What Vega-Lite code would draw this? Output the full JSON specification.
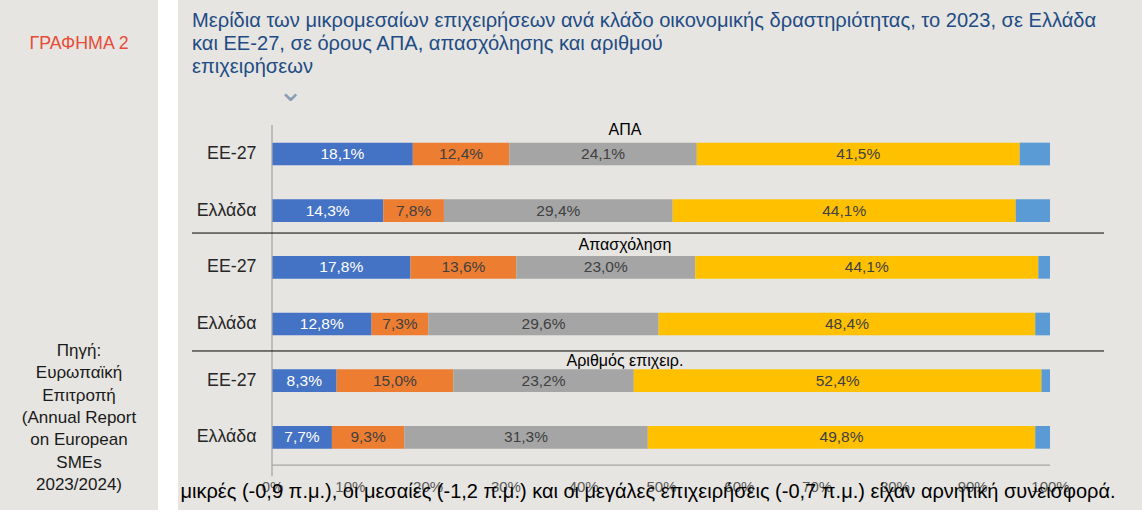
{
  "$schema": "https://vega.github.io/schema/vega-lite/v6.json",
  "padding": 0,
  "background": "#FFFFFF",
  "config": {
    "view": {"stroke": null},
    "font": "Liberation Sans",
    "locale": {"number": {"decimal": ",", "thousands": ".", "grouping": [3], "currency": ["", " €"]}},
    "concat": {"spacing": 20}
  },
  "hconcat": [
    {
      "width": 158,
      "height": 510,
      "view": {"fill": "#E6E5E1", "stroke": null},
      "title": {
        "text": "ΓΡΑΦΗΜΑ 2",
        "subtitle": ["Πηγή:", "Ευρωπαϊκή", "Επιτροπή", "(Annual Report", "on European", "SMEs", "2023/2024)"],
        "anchor": "middle",
        "frame": "group",
        "offset": -493,
        "font": "Liberation Sans",
        "fontSize": 17.8,
        "fontWeight": "normal",
        "color": "#E84B37",
        "subtitleFont": "Liberation Sans",
        "subtitleFontSize": 17,
        "subtitleColor": "#1A1A1A",
        "subtitleLineHeight": 22.3,
        "subtitlePadding": 290
      },
      "data": {"values": [{}]},
      "mark": {"type": "text", "text": ""}
    },
    {
      "width": 964,
      "height": 510,
      "view": {"fill": "#E6E5E1", "stroke": null},
      "title": {
        "text": [
          "Μερίδια των μικρομεσαίων επιχειρήσεων ανά κλάδο οικονομικής δραστηριότητας, το 2023, σε Ελλάδα",
          "και ΕΕ-27, σε όρους ΑΠΑ, απασχόλησης και αριθμού",
          "επιχειρήσεων"
        ],
        "anchor": "start",
        "frame": "group",
        "offset": -77,
        "dx": 14,
        "font": "Liberation Sans",
        "fontSize": 20.1,
        "fontWeight": "normal",
        "color": "#1F4C85",
        "lineHeight": 23
      },
      "data": {
        "values": [
          {"row": "ΑΠΑ|ΕΕ-27", "seg": "Κλάδος Α", "v": 0.181},
          {"row": "ΑΠΑ|ΕΕ-27", "seg": "Κλάδος Β", "v": 0.124},
          {"row": "ΑΠΑ|ΕΕ-27", "seg": "Κλάδος Γ", "v": 0.241},
          {"row": "ΑΠΑ|ΕΕ-27", "seg": "Κλάδος Δ", "v": 0.415},
          {"row": "ΑΠΑ|ΕΕ-27", "seg": "Κλάδος Ε", "v": 0.039},
          {"row": "ΑΠΑ|Ελλάδα", "seg": "Κλάδος Α", "v": 0.143},
          {"row": "ΑΠΑ|Ελλάδα", "seg": "Κλάδος Β", "v": 0.078},
          {"row": "ΑΠΑ|Ελλάδα", "seg": "Κλάδος Γ", "v": 0.294},
          {"row": "ΑΠΑ|Ελλάδα", "seg": "Κλάδος Δ", "v": 0.441},
          {"row": "ΑΠΑ|Ελλάδα", "seg": "Κλάδος Ε", "v": 0.044},
          {"row": "Απασχόληση|ΕΕ-27", "seg": "Κλάδος Α", "v": 0.178},
          {"row": "Απασχόληση|ΕΕ-27", "seg": "Κλάδος Β", "v": 0.136},
          {"row": "Απασχόληση|ΕΕ-27", "seg": "Κλάδος Γ", "v": 0.230},
          {"row": "Απασχόληση|ΕΕ-27", "seg": "Κλάδος Δ", "v": 0.441},
          {"row": "Απασχόληση|ΕΕ-27", "seg": "Κλάδος Ε", "v": 0.015},
          {"row": "Απασχόληση|Ελλάδα", "seg": "Κλάδος Α", "v": 0.128},
          {"row": "Απασχόληση|Ελλάδα", "seg": "Κλάδος Β", "v": 0.073},
          {"row": "Απασχόληση|Ελλάδα", "seg": "Κλάδος Γ", "v": 0.296},
          {"row": "Απασχόληση|Ελλάδα", "seg": "Κλάδος Δ", "v": 0.484},
          {"row": "Απασχόληση|Ελλάδα", "seg": "Κλάδος Ε", "v": 0.019},
          {"row": "Αριθμός επιχειρ.|ΕΕ-27", "seg": "Κλάδος Α", "v": 0.083},
          {"row": "Αριθμός επιχειρ.|ΕΕ-27", "seg": "Κλάδος Β", "v": 0.150},
          {"row": "Αριθμός επιχειρ.|ΕΕ-27", "seg": "Κλάδος Γ", "v": 0.232},
          {"row": "Αριθμός επιχειρ.|ΕΕ-27", "seg": "Κλάδος Δ", "v": 0.524},
          {"row": "Αριθμός επιχειρ.|ΕΕ-27", "seg": "Κλάδος Ε", "v": 0.011},
          {"row": "Αριθμός επιχειρ.|Ελλάδα", "seg": "Κλάδος Α", "v": 0.077},
          {"row": "Αριθμός επιχειρ.|Ελλάδα", "seg": "Κλάδος Β", "v": 0.093},
          {"row": "Αριθμός επιχειρ.|Ελλάδα", "seg": "Κλάδος Γ", "v": 0.313},
          {"row": "Αριθμός επιχειρ.|Ελλάδα", "seg": "Κλάδος Δ", "v": 0.498},
          {"row": "Αριθμός επιχειρ.|Ελλάδα", "seg": "Κλάδος Ε", "v": 0.019}
        ]
      },
      "layer": [
        {
          "mark": {"type": "bar"},
          "encoding": {
            "x": {
              "field": "v", "type": "quantitative", "stack": "zero",
              "scale": {"domain": [-0.120823, 1.118252], "nice": false, "zero": false},
              "axis": {
                "orient": "bottom", "offset": -45,
                "values": [0, 0.1, 0.2, 0.3, 0.4, 0.5, 0.6, 0.7, 0.8, 0.9, 1],
                "format": "%", "domain": false, "ticks": false, "grid": false,
                "labelFlush": false, "labelPadding": 14, "labelFontSize": 15,
                "labelColor": "#595959", "labelFont": "Liberation Sans",
                "title": "μικρές (-0,9 π.μ.), οι μεσαίες (-1,2 π.μ.) και οι μεγάλες επιχειρήσεις (-0,7 π.μ.) είχαν αρνητική συνεισφορά.",
                "titleFont": "Liberation Sans", "titleFontSize": 20, "titleFontWeight": "normal",
                "titleColor": "#000000", "titleX": 469.5, "titleY": 32,
                "titleBaseline": "alphabetic", "titleAlign": "center", "titleAnchor": null
              }
            },
            "y": {
              "field": "row", "type": "nominal",
              "scale": {
                "type": "band",
                "domain": ["ΑΠΑ|ΕΕ-27", "ΑΠΑ|Ελλάδα", "Απασχόληση|ΕΕ-27", "Απασχόληση|Ελλάδα", "Αριθμός επιχειρ.|ΕΕ-27", "Αριθμός επιχειρ.|Ελλάδα"],
                "range": [125.67, 465.67],
                "paddingInner": 0.6, "paddingOuter": 0.3, "round": false
              },
              "axis": {
                "orient": "left", "offset": -94, "domain": false, "ticks": false,
                "labelPadding": 16, "labelFontSize": 17.8, "labelColor": "#262626",
                "labelFont": "Liberation Sans", "title": null,
                "labelExpr": "split(datum.label, '|')[1]"
              }
            },
            "color": {
              "field": "seg", "type": "nominal",
              "scale": {
                "domain": ["Κλάδος Α", "Κλάδος Β", "Κλάδος Γ", "Κλάδος Δ", "Κλάδος Ε"],
                "range": ["#4472C4", "#ED7D31", "#A5A5A5", "#FFC000", "#5B9BD5"]
              },
              "legend": null
            },
            "order": {"field": "seg", "type": "nominal", "sort": "ascending"}
          }
        },
        {
          "transform": [{"filter": "datum.seg !== 'Κλάδος Ε'"}],
          "mark": {"type": "text", "fontSize": 15.5, "font": "Liberation Sans"},
          "encoding": {
            "x": {"field": "v", "type": "quantitative", "stack": "zero", "bandPosition": 0.5},
            "y": {"field": "row", "type": "nominal"},
            "text": {"field": "v", "type": "quantitative", "format": ".1%"},
            "color": {"condition": {"test": "datum.seg === 'Κλάδος Α'", "value": "#FFFFFF"}, "value": "#404040"},
            "order": {"field": "seg", "type": "nominal", "sort": "ascending"}
          }
        },
        {
          "data": {"values": [{}]},
          "mark": {"type": "rule", "color": "#A6A6A6", "strokeWidth": 1.3, "yOffset": -29, "y2Offset": 39},
          "encoding": {
            "x": {"datum": 0, "type": "quantitative"},
            "y": {"datum": "ΑΠΑ|ΕΕ-27", "type": "nominal"},
            "y2": {"datum": "Αριθμός επιχειρ.|Ελλάδα"}
          }
        },
        {
          "data": {"values": [{}]},
          "mark": {"type": "rule", "color": "#A6A6A6", "strokeWidth": 1.3, "yOffset": 27.7},
          "encoding": {
            "x": {"datum": 0, "type": "quantitative"},
            "x2": {"datum": 1},
            "y": {"datum": "Αριθμός επιχειρ.|Ελλάδα", "type": "nominal"}
          }
        },
        {
          "data": {"values": [{}]},
          "mark": {"type": "rule", "color": "#000000", "strokeWidth": 1, "yOffset": -34.3},
          "encoding": {
            "x": {"datum": -0.1028, "type": "quantitative"},
            "x2": {"datum": 1.0694},
            "y": {"datum": "Απασχόληση|ΕΕ-27", "type": "nominal"}
          }
        },
        {
          "data": {"values": [{}]},
          "mark": {"type": "rule", "color": "#000000", "strokeWidth": 1, "yOffset": -29.7},
          "encoding": {
            "x": {"datum": -0.1028, "type": "quantitative"},
            "x2": {"datum": 1.0694},
            "y": {"datum": "Αριθμός επιχειρ.|ΕΕ-27", "type": "nominal"}
          }
        },
        {
          "data": {"values": [{}]},
          "mark": {"type": "text", "text": "ΑΠΑ", "fontSize": 16, "color": "#000000", "yOffset": -24.5},
          "encoding": {
            "x": {"datum": 0.4537, "type": "quantitative"},
            "y": {"datum": "ΑΠΑ|ΕΕ-27", "type": "nominal"}
          }
        },
        {
          "data": {"values": [{}]},
          "mark": {"type": "text", "text": "Απασχόληση", "fontSize": 16, "color": "#000000", "yOffset": -22},
          "encoding": {
            "x": {"datum": 0.4537, "type": "quantitative"},
            "y": {"datum": "Απασχόληση|ΕΕ-27", "type": "nominal"}
          }
        },
        {
          "data": {"values": [{}]},
          "mark": {"type": "text", "text": "Αριθμός επιχειρ.", "fontSize": 16, "color": "#000000", "yOffset": -20},
          "encoding": {
            "x": {"datum": 0.4537, "type": "quantitative"},
            "y": {"datum": "Αριθμός επιχειρ.|ΕΕ-27", "type": "nominal"}
          }
        },
        {
          "data": {"values": [{}]},
          "mark": {"type": "text", "text": "⌄", "fontSize": 30, "color": "#8A9BB5", "yOffset": -62},
          "encoding": {
            "x": {"datum": 0.0244, "type": "quantitative"},
            "y": {"datum": "ΑΠΑ|ΕΕ-27", "type": "nominal"}
          }
        }
      ]
    }
  ]
}
